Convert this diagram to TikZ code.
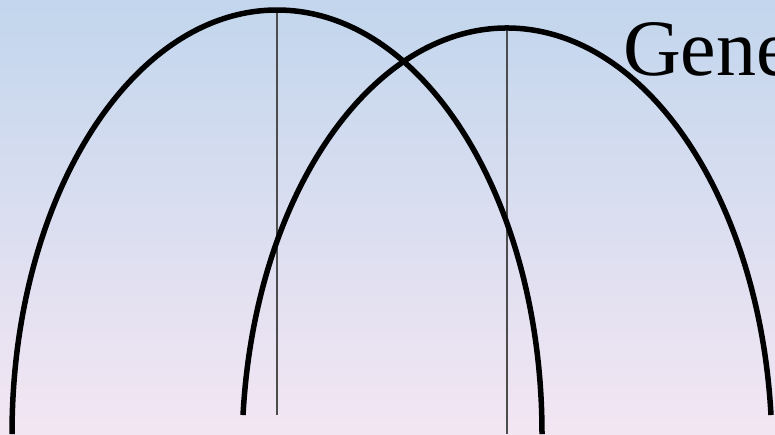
\documentclass[tikz,border=0pt]{standalone}
\usepackage{fontspec}
\setmainfont{Liberation Serif}
\definecolor{skytop}{RGB}{194,214,237}
\definecolor{pinkbottom}{RGB}{243,230,243}
\tikzset{
  arch/.style={line width=5.5pt,black},
  axis line/.style={line width=1.6pt,black!70}
}

\begin{document}
\begin{tikzpicture}[x=1pt,y=-1pt]
\useasboundingbox (0,0) rectangle (775,434);
\clip (0,0) rectangle (775,434);
\shade[top color=skytop,bottom color=pinkbottom] (0,0) rectangle (775,434);
% axes of the two arches
\coordinate (topA) at (277,10);
\coordinate (footA) at (277,415);
\coordinate (topB) at (507,28);
\coordinate (footB) at (507,434);
\draw[axis line] (topA) -- (footA);
\draw[axis line] (topB) -- (footB);
% the arches
\foreach \cx/\cy/\a in {277/434/0,507/452/5}{
  \draw[arch] (\cx,\cy) ++(180+\a:265 and 424)
    arc[start angle=180+\a,end angle=360-\a,x radius=265,y radius=424];
}
\node[anchor=base west,inner sep=0pt,font=\fontsize{80}{90}\selectfont] (title) at (623,75) {Gene};
\end{tikzpicture}
\end{document}
